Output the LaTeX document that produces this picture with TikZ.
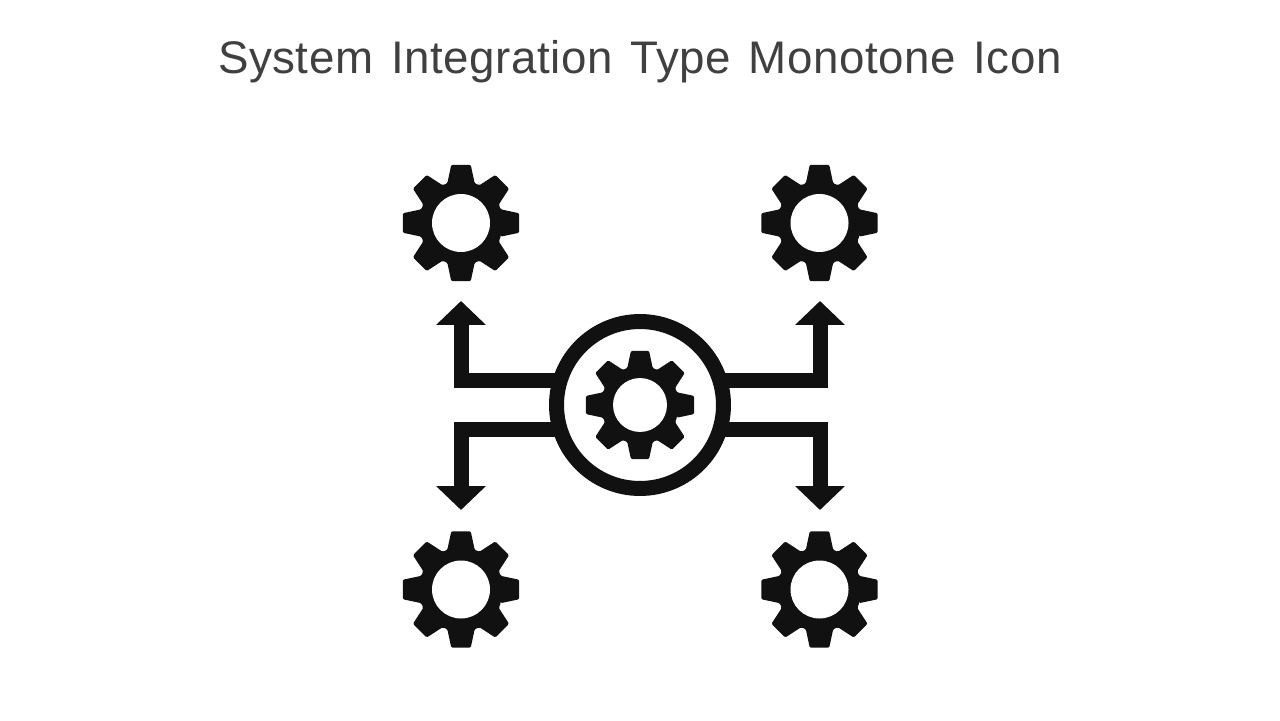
\documentclass[tikz,border=0pt]{standalone}
\usepackage{fontspec}
\setmainfont[LetterSpace=1.2,WordSpace=1.35]{Liberation Sans}
\usetikzlibrary{arrows.meta}
\definecolor{inkblack}{HTML}{111111}
\definecolor{titlegray}{HTML}{404040}
\tikzset{
  hub/.style = {draw=inkblack, circle, line width=.3cm, minimum size=3.34cm, inner sep=0pt, outer sep=0pt},
  flow/.style = {draw=inkblack, line width=.3cm, ->},
  title/.style = {text=titlegray, font=\fontsize{26}{30}\selectfont, inner sep=0pt},
  pics/gear/.style = {code={
    \fill [inkblack, rounded corners=.025cm]
      (-19:42)
      \foreach \a in {0,45,...,315} {
        -- (\a-19:42) -- (\a-9.5:59) -- (\a+9.5:59) -- (\a+19:42)
      } -- cycle;
    \fill [white] (0,0) circle (#1);
  }}
}
\begin{document}
\begin{tikzpicture}[x=.02cm, y=.02cm, >={Triangle[length=.48cm,width=.97cm]}]
  \useasboundingbox (0,0) rectangle (1280,720);

  \node [title] (heading) at (640,658) {System Integration Type Monotone Icon};

  \node [hub] (hub) at (640,315) {};

  % gears
  \coordinate (gearTL) at (461,497);
  \coordinate (gearTR) at (819.5,497);
  \coordinate (gearBL) at (461,130.5);
  \coordinate (gearBR) at (819.5,130.5);
  \pic at (gearTL) {gear=29};
  \pic at (gearTR) {gear=29};
  \pic at (gearBL) {gear=29};
  \pic at (gearBR) {gear=29};
  \pic [scale=.93] at (hub.center) {gear=29};

  % arrow tips
  \coordinate (tipTL) at (461,419);
  \coordinate (tipTR) at (820,419);
  \coordinate (tipBL) at (461,210);
  \coordinate (tipBR) at (820,210);

  \draw [flow] (hub.163) -| (tipTL);
  \draw [flow] (hub.17) -| (tipTR);
  \draw [flow] (hub.197) -| (tipBL);
  \draw [flow] (hub.-17) -| (tipBR);
\end{tikzpicture}
\end{document}
